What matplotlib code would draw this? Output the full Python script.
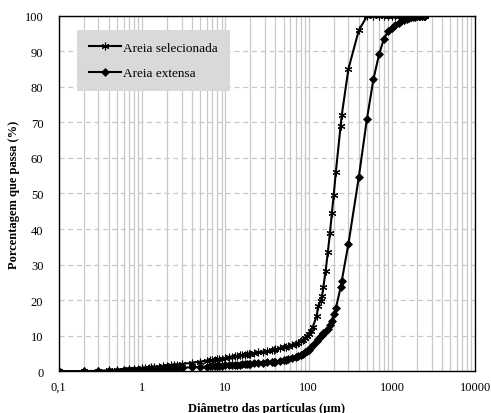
import numpy as np
import matplotlib.pyplot as plt
from matplotlib.ticker import FixedLocator, FixedFormatter, NullFormatter

# classes granulometricas (um)
diametro = [0.1, 0.2, 0.3, 0.4, 0.5, 0.6, 0.7, 0.8, 0.9, 1.0,
            1.1, 1.2, 1.3, 1.4, 1.6, 1.8, 2.0, 2.2, 2.4, 2.6,
            3.0, 4.0, 5.0, 6.0, 6.5, 7.0, 7.5, 8.0, 8.5, 9.0,
            10, 11, 12, 13, 14, 15, 16, 17, 18, 19,
            20, 22, 25, 28, 32, 36, 38, 40, 45, 50,
            53, 56, 63, 71, 75, 80, 85, 90, 95, 100,
            106, 112, 125, 130, 140, 145, 150, 160, 170, 180,
            190, 200, 212, 242, 250, 300, 400, 500, 600, 700,
            800, 900, 1000, 1100, 1200, 1300, 1400, 1500, 1600, 1700,
            1800, 1900, 2000, 2100, 2200, 2300, 2400, 2500]

areia_selecionada = [0.0, 0.05, 0.15, 0.25, 0.35, 0.45, 0.55, 0.65, 0.75, 0.85,
                     0.95, 1.05, 1.15, 1.2, 1.35, 1.5, 1.6, 1.7, 1.8, 1.9,
                     2.05, 2.4, 2.7, 3.0, 3.1, 3.2, 3.3, 3.4, 3.5, 3.6,
                     3.75, 3.9, 4.05, 4.2, 4.3, 4.45, 4.55, 4.65, 4.75, 4.85,
                     4.95, 5.1, 5.3, 5.5, 5.75, 6.0, 6.1, 6.2, 6.45, 6.7,
                     6.85, 7.0, 7.4, 7.8, 8.1, 8.5, 8.9, 9.4, 9.9, 10.6,
                     11.4, 12.4, 15.6, 18.4, 19.9, 21.3, 23.6, 28.3, 33.5, 38.8,
                     44.5, 49.6, 56.0, 69.1, 72.1, 85.0, 95.9, 99.8, 100, 100,
                     100, 100, 100, 100, 100, 100, 100, 100, 100, 100,
                     100, 100, 100, 100, 100, 100, 100, 100]

areia_extensa = [0.0, 0.03, 0.1, 0.15, 0.2, 0.25, 0.3, 0.35, 0.4, 0.45,
                 0.5, 0.55, 0.6, 0.63, 0.7, 0.75, 0.8, 0.85, 0.9, 0.93,
                 1.0, 1.15, 1.25, 1.35, 1.4, 1.45, 1.5, 1.5, 1.55, 1.6,
                 1.65, 1.7, 1.75, 1.8, 1.85, 1.9, 1.95, 2.0, 2.0, 2.05,
                 2.1, 2.2, 2.3, 2.4, 2.5, 2.65, 2.7, 2.75, 2.95, 3.15,
                 3.3, 3.4, 3.75, 4.15, 4.4, 4.7, 5.0, 5.3, 5.6, 6.0,
                 6.7, 7.4, 8.4, 9.0, 9.8, 10.3, 10.8, 11.4, 12.0, 13.0,
                 14.2, 16.1, 17.7, 23.6, 25.5, 35.8, 54.6, 70.9, 82.2, 89.1,
                 93.5, 95.6, 96.6, 97.3, 97.9, 98.4, 98.8, 99.1, 99.3, 99.5,
                 99.6, 99.7, 99.8, 99.85, 99.9, 99.95, 100, 100]

x_ticks = [0.1, 1, 10, 100, 1000, 10000]
x_labels = ['0,1', '1', '10', '100', '1000', '10000']

plt.rcParams['font.family'] = ['Liberation Serif', 'DejaVu Serif']

fig = plt.figure(figsize=(4.91, 4.14), dpi=100)
ax = fig.add_axes([0.1195, 0.1007, 0.8485, 0.859])

ax.plot(diametro, areia_selecionada, color='black', lw=1.5,
        marker=(6, 2, 0), ms=5.5, mew=0.8, label='Areia selecionada', zorder=3)
ax.plot(diametro, areia_extensa, color='black', lw=1.5,
        marker='D', ms=3.8, mew=0.5, label='Areia extensa', zorder=3)

ax.set_xscale('log')
ax.set_xlim(0.1, 10000)
ax.set_ylim(0, 100)
ax.set_yticks(np.arange(0, 101, 10))
ax.xaxis.set_major_locator(FixedLocator(x_ticks))
ax.xaxis.set_major_formatter(FixedFormatter(x_labels))
ax.xaxis.set_minor_formatter(NullFormatter())
ax.tick_params(which='both', length=0, labelsize=9)
ax.tick_params(axis='y', pad=11)
ax.tick_params(axis='x', pad=7)

ax.grid(True, which='both', axis='x', color='#c8c8c8', lw=0.9, ls='-')
ax.grid(True, which='major', axis='y', color='#c8c8c8', lw=0.9, ls=(0, (4, 3)))
ax.set_axisbelow(True)
for s in ax.spines.values():
    s.set_color('black')
    s.set_linewidth(1.0)

ax.set_xlabel('Diâmetro das partículas (µm)', fontsize=9, fontweight='bold')
ax.xaxis.set_label_coords(0.5, -0.085)
ax.set_ylabel('Porcentagem que passa (%)', fontsize=9, fontweight='bold')
ax.yaxis.set_label_coords(-0.092, 0.5)

leg = ax.legend(loc='upper left', bbox_to_anchor=(0.045, 0.96), frameon=True,
                fancybox=False, fontsize=9.5, handlelength=2.4, labelspacing=1.0,
                borderpad=0.9, handletextpad=0.15, borderaxespad=0)
leg.get_frame().set_facecolor('#d9d9d9')
leg.get_frame().set_edgecolor('none')
leg.get_frame().set_alpha(1)

fig.savefig('out.png', dpi=100)
